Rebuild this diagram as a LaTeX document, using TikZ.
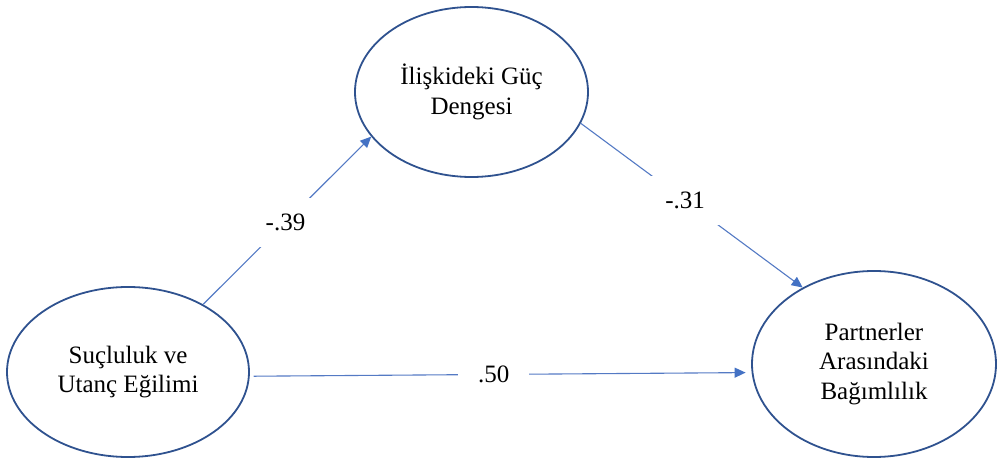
\documentclass[tikz,border=0pt]{standalone}
\usepackage{fontspec}
\setmainfont{Liberation Serif}
\usetikzlibrary{shapes.geometric,arrows.meta}
\definecolor{ellc}{RGB}{47,82,143}
\definecolor{linec}{RGB}{84,122,196}
\definecolor{tipc}{RGB}{68,114,196}
\begin{document}
\begin{tikzpicture}[x=1pt,y=-1pt,
  ell/.style={ellipse, draw=ellc, line width=1.8pt, inner sep=0pt, align=center,
    font=\fontsize{25}{29.5}\selectfont},
  conn/.style={draw=linec, line width=1.1pt,
    -{Triangle[length=11pt,width=10pt,fill=tipc,color=tipc]}},
  lbl/.style={fill=white, inner sep=16pt, font=\fontsize{25}{29.5}\selectfont}]
\useasboundingbox (0,0) rectangle (997,462);
\node[ell, minimum width=233pt, minimum height=170pt] (T) at (471.5,92) {İlişkideki Güç\\Dengesi};
\node[ell, minimum width=242pt, minimum height=170pt] (L) at (128,372) {Suçluluk ve\\Utanç Eğilimi};
\node[ell, minimum width=244pt, minimum height=186pt] (R) at (874,364) {Partnerler\\Arasındaki\\Bağımlılık};
\draw[conn] (L.42.6) -- node[lbl, pos=0.49] (l1) {-.39} (T.204.9);
\draw[conn] (T.-16.5) -- node[lbl, pos=0.47] (l2) {-.31} (R.133.1);
\draw[conn, shorten <=4pt, shorten >=6pt] (L.-2.8) -- node[lbl, inner xsep=20pt, pos=0.486] (l3) {.50} (R.184.2);
\end{tikzpicture}
\end{document}
